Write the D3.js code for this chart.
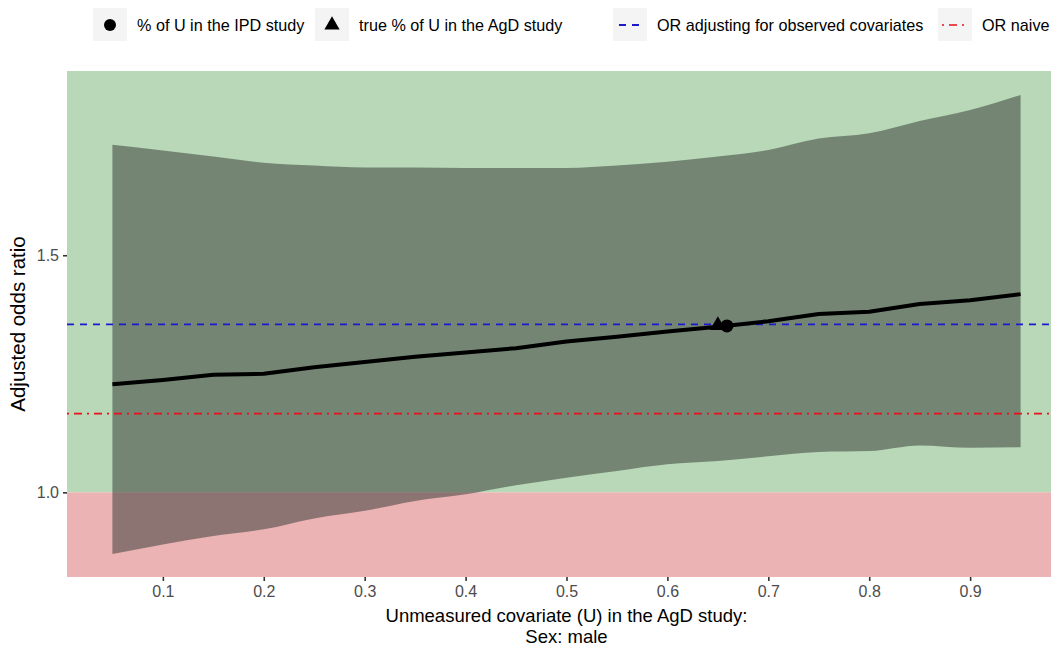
<!DOCTYPE html>
<html>
<head>
<meta charset="utf-8">
<script src="https://cdn.jsdelivr.net/npm/d3@7"></script>
<style>
  body { margin: 0; background: #fff; }
  svg { display: block; font-family: "Liberation Sans", Arial, sans-serif; }
</style>
</head>
<body>
<svg id="chart" width="1051" height="647"></svg>
<script>
// proportion of U in the AgD study (x)
let uValues = [0.05, 0.10, 0.15, 0.20, 0.25, 0.30, 0.35, 0.40, 0.45, 0.50,
               0.55, 0.60, 0.65, 0.70, 0.75, 0.80, 0.85, 0.90, 0.95];
// adjusted odds ratio and its interval
let orAdjusted = [1.228, 1.237, 1.248, 1.250, 1.264, 1.275, 1.286, 1.295, 1.304, 1.318,
                  1.328, 1.339, 1.349, 1.361, 1.376, 1.381, 1.397, 1.405, 1.418];
let orLower = [0.870, 0.890, 0.908, 0.922, 0.945, 0.961, 0.982, 0.996, 1.015, 1.031,
               1.045, 1.059, 1.066, 1.076, 1.085, 1.087, 1.099, 1.094, 1.095];
let orUpper = [1.733, 1.721, 1.708, 1.695, 1.689, 1.685, 1.685, 1.684, 1.684, 1.684,
               1.689, 1.697, 1.708, 1.722, 1.746, 1.757, 1.783, 1.806, 1.838];

let orObserved = 1.354;   // OR adjusting for observed covariates
let orNaive = 1.166;      // OR naive
let ipdPoint = [0.659, 1.351];   // % of U in the IPD study
let agdPoint = [0.650, 1.352];   // true % of U in the AgD study

let xTicks = [0.1, 0.2, 0.3, 0.4, 0.5, 0.6, 0.7, 0.8, 0.9];
let yTicks = [1.0, 1.5];

let w = 1051;
let h = 647;
let panel = {left: 67, right: 1066, top: 71, bottom: 577};

let svg = d3.select('#chart');

let values = uValues.map((u, i) => ({u: u, est: orAdjusted[i], lo: orLower[i], hi: orUpper[i]}));

let xScale = d3.scaleLinear()
  .domain([0.005, 0.995])
  .range([panel.left, panel.right]);

let yScale = d3.scaleLinear()
  .domain([0.8215, 1.8885])
  .range([panel.bottom, panel.top]);

svg.append('defs').append('clipPath').attr('id', 'clip')
  .append('rect')
  .attr('x', panel.left).attr('y', panel.top)
  .attr('width', panel.right - panel.left).attr('height', panel.bottom - panel.top);

let plot = svg.append('g').attr('clip-path', 'url(#clip)');

// shaded regions: OR above / below 1
plot.append('rect')
  .attr('x', panel.left).attr('y', panel.top)
  .attr('width', panel.right - panel.left)
  .attr('height', yScale(1) - panel.top)
  .attr('fill', '#b8d8b8');

plot.append('rect')
  .attr('x', panel.left).attr('y', yScale(1))
  .attr('width', panel.right - panel.left)
  .attr('height', panel.bottom - yScale(1))
  .attr('fill', '#ebb3b3');

// confidence band
let area = d3.area()
  .x(d => xScale(d.u))
  .y0(d => yScale(d.lo))
  .y1(d => yScale(d.hi))
  .curve(d3.curveMonotoneX);

plot.append('path')
  .datum(values)
  .attr('d', area)
  .attr('fill', '#363936')
  .attr('fill-opacity', 0.52);

// reference lines
plot.append('line')
  .attr('x1', panel.left).attr('x2', panel.right)
  .attr('y1', yScale(orObserved)).attr('y2', yScale(orObserved))
  .attr('stroke', '#1a1acc')
  .attr('stroke-width', 1.8)
  .attr('stroke-dasharray', '7,6');

plot.append('line')
  .attr('x1', panel.left).attr('x2', panel.right)
  .attr('y1', yScale(orNaive)).attr('y2', yScale(orNaive))
  .attr('stroke', '#e8101a')
  .attr('stroke-width', 1.6)
  .attr('stroke-dasharray', '2,5,8,5');

// adjusted OR line
let line = d3.line()
  .x(d => xScale(d.u))
  .y(d => yScale(d.est));

plot.append('path')
  .datum(values)
  .attr('d', line)
  .attr('fill', 'none')
  .attr('stroke', '#000')
  .attr('stroke-width', 4)
  .attr('stroke-linejoin', 'round');

// points
plot.append('path')
  .attr('d', d3.symbol(d3.symbolTriangle, 110)())
  .attr('transform', 'translate(' + xScale(agdPoint[0]) + ',' + yScale(agdPoint[1]) + ')')
  .attr('fill', '#000');

plot.append('circle')
  .attr('cx', xScale(ipdPoint[0]))
  .attr('cy', yScale(ipdPoint[1]))
  .attr('r', 6.5)
  .attr('fill', '#000');

// axes
let xAxis = d3.axisBottom(xScale)
  .tickValues(xTicks)
  .tickFormat(d3.format('.1f'))
  .tickSize(4)
  .tickPadding(5);

let xg = svg.append('g')
  .attr('transform', 'translate(0,' + panel.bottom + ')')
  .call(xAxis);

let yAxis = d3.axisLeft(yScale)
  .tickValues(yTicks)
  .tickFormat(d3.format('.1f'))
  .tickSize(4)
  .tickPadding(4);

let yg = svg.append('g')
  .attr('transform', 'translate(' + panel.left + ',0)')
  .call(yAxis);

[xg, yg].forEach(g => {
  g.select('.domain').remove();
  g.selectAll('.tick line').attr('stroke', '#333').attr('stroke-width', 1.6);
  g.selectAll('.tick text')
    .attr('fill', '#4d4d4d')
    .style('font-size', '16px')
    .style('font-family', '"Liberation Sans", Arial, sans-serif');
});

// axis titles
let xMid = (panel.left + panel.right) / 2;
svg.append('text')
  .attr('x', xMid).attr('y', 622)
  .attr('text-anchor', 'middle')
  .style('font-size', '18.5px')
  .text('Unmeasured covariate (U) in the AgD study:');

svg.append('text')
  .attr('x', xMid).attr('y', 642.5)
  .attr('text-anchor', 'middle')
  .style('font-size', '18.5px')
  .text('Sex: male');

svg.append('text')
  .attr('transform', 'translate(25,' + ((panel.top + panel.bottom) / 2) + ') rotate(-90)')
  .attr('text-anchor', 'middle')
  .style('font-size', '20.5px')
  .text('Adjusted odds ratio');

// legend
let legendItems = [
  {key: 'circle', x: 93, label: '% of U in the IPD study'},
  {key: 'triangle', x: 315, label: 'true % of U in the AgD study'},
  {key: 'dashed', x: 613, label: 'OR adjusting for observed covariates'},
  {key: 'dotdash', x: 938, label: 'OR naive'}
];

let legend = svg.append('g');
let keyW = 34, keyTop = 8, keyH = 33, cy = 25;

legendItems.forEach(d => {
  let g = legend.append('g');
  g.append('rect')
    .attr('x', d.x).attr('y', keyTop)
    .attr('width', keyW).attr('height', keyH)
    .attr('fill', '#f4f4f4');
  let cx = d.x + keyW / 2;
  if (d.key === 'circle') {
    g.append('circle').attr('cx', cx).attr('cy', cy).attr('r', 6).attr('fill', '#000');
  } else if (d.key === 'triangle') {
    g.append('path')
      .attr('d', d3.symbol(d3.symbolTriangle, 100)())
      .attr('transform', 'translate(' + cx + ',' + cy + ')')
      .attr('fill', '#000');
  } else if (d.key === 'dashed') {
    g.append('line')
      .attr('x1', d.x + 6).attr('x2', d.x + keyW - 5)
      .attr('y1', cy).attr('y2', cy)
      .attr('stroke', '#1a1acc').attr('stroke-width', 1.8)
      .attr('stroke-dasharray', '7,6');
  } else {
    g.append('line')
      .attr('x1', d.x + 4).attr('x2', d.x + keyW - 3)
      .attr('y1', cy).attr('y2', cy)
      .attr('stroke', '#e8101a').attr('stroke-width', 1.6)
      .attr('stroke-dasharray', '2,5,8,5');
  }
  g.append('text')
    .attr('x', d.x + keyW + 10)
    .attr('y', cy + 5.5)
    .style('font-size', '16.2px')
    .attr('fill', '#000')
    .text(d.label);
});
</script>
</body>
</html>
